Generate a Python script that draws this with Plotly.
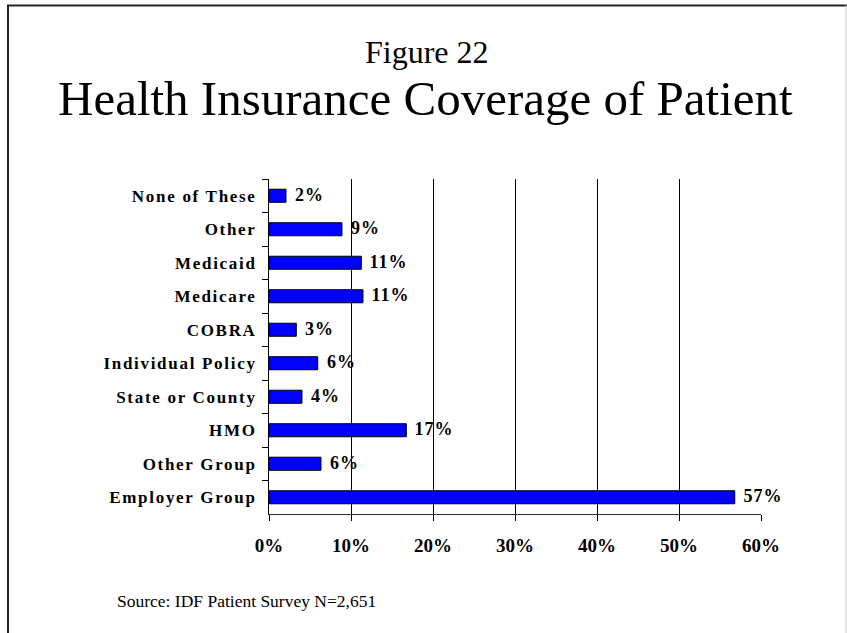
import plotly.graph_objects as go

# Survey results, listed top to bottom as drawn
categories = ["None of These", "Other", "Medicaid", "Medicare", "COBRA",
              "Individual Policy", "State or County", "HMO", "Other Group",
              "Employer Group"]
shares = [2.07, 8.9, 11.26, 11.46, 3.33, 5.94, 4.02, 16.75, 6.34, 56.8]
x_ticks = [0, 10, 20, 30, 40, 50, 60]
x_tick_labels = [f"{t}%" for t in x_ticks]

W, H = 847, 633
M_L, M_R, M_T, M_B = 269, 86, 179, 119
PW, PH = W - M_L - M_R, H - M_T - M_B
SERIF = "Liberation Serif, Times New Roman, serif"


def px_x(px):
    return (px - M_L) / PW


def px_y(py):
    return (H - M_B - py) / PH


fig = go.Figure()
fig.add_trace(go.Bar(
    x=shares, y=categories, orientation="h", width=0.39,
    marker=dict(color="#0000FF", line=dict(color="black", width=1)),
    hoverinfo="skip",
))

# value labels just past each bar end
for v, c in zip(shares, categories):
    fig.add_annotation(x=v, y=c, xref="x", yref="y", text=f"{round(v)}%",
                       showarrow=False, xanchor="left", yanchor="middle",
                       xshift=8, yshift=1,
                       font=dict(family=SERIF, size=18, color="black",
                                 weight="bold"))

fig.add_annotation(x=px_x(427), y=px_y(52), xref="paper", yref="paper",
                   text="Figure 22", showarrow=False, xanchor="center",
                   yanchor="middle",
                   font=dict(family=SERIF, size=32, color="black"))
fig.add_annotation(x=px_x(425), y=px_y(98), xref="paper", yref="paper",
                   text="Health Insurance Coverage of Patient", showarrow=False,
                   xanchor="center", yanchor="middle",
                   font=dict(family=SERIF, size=49, color="black"))
fig.add_annotation(x=px_x(115), y=px_y(601), xref="paper", yref="paper",
                   text="Source: IDF Patient Survey N=2,651", showarrow=False,
                   xanchor="left", yanchor="middle",
                   font=dict(family=SERIF, size=17.5, color="black"))

# slide frame: left and top edges dark, right edge pale
fig.add_shape(type="line", xref="paper", yref="paper",
              x0=px_x(8), x1=px_x(8), y0=px_y(5), y1=px_y(640),
              line=dict(color="#222222", width=2))
fig.add_shape(type="line", xref="paper", yref="paper",
              x0=px_x(7), x1=px_x(847), y0=px_y(5.5), y1=px_y(5.5),
              line=dict(color="#222222", width=2))
fig.add_shape(type="line", xref="paper", yref="paper",
              x0=px_x(846), x1=px_x(846), y0=px_y(5), y1=px_y(640),
              line=dict(color="#cccccc", width=1))

fig.update_layout(
    width=W, height=H,
    margin=dict(l=M_L, r=M_R, t=M_T, b=M_B),
    paper_bgcolor="white", plot_bgcolor="white",
    showlegend=False,
    xaxis=dict(range=[0, 60], tickvals=x_ticks, ticktext=x_tick_labels,
               showgrid=True, gridcolor="black", gridwidth=1,
               zeroline=False, showline=True, linecolor="#333333",
               linewidth=1, ticks="outside", ticklen=6, tickcolor="black",
               ticklabelstandoff=8,
               tickfont=dict(family=SERIF, size=19, color="black",
                             weight="bold")),
    yaxis=dict(autorange="reversed", showgrid=False, zeroline=False,
               showline=True, linecolor="black", linewidth=1,
               ticks="outside", ticklen=6, tickcolor="black",
               tickson="boundaries", ticklabelstandoff=8,
               tickfont=dict(family=SERIF, size=17, color="black",
                             weight="bold")),
)

# category and value labels are set with slightly open letter spacing
spacing_js = """
var gd = document.getElementById('{plot_id}');
gd.querySelectorAll('.ytick text').forEach(function(t){
  t.style.letterSpacing = '1.7px';
});
gd.querySelectorAll('.annotation-text').forEach(function(t){
  if (/^\\d+%$/.test(t.textContent)) { t.style.letterSpacing = '1px'; }
});
"""

fig.write_html("out.html", post_script=spacing_js)
